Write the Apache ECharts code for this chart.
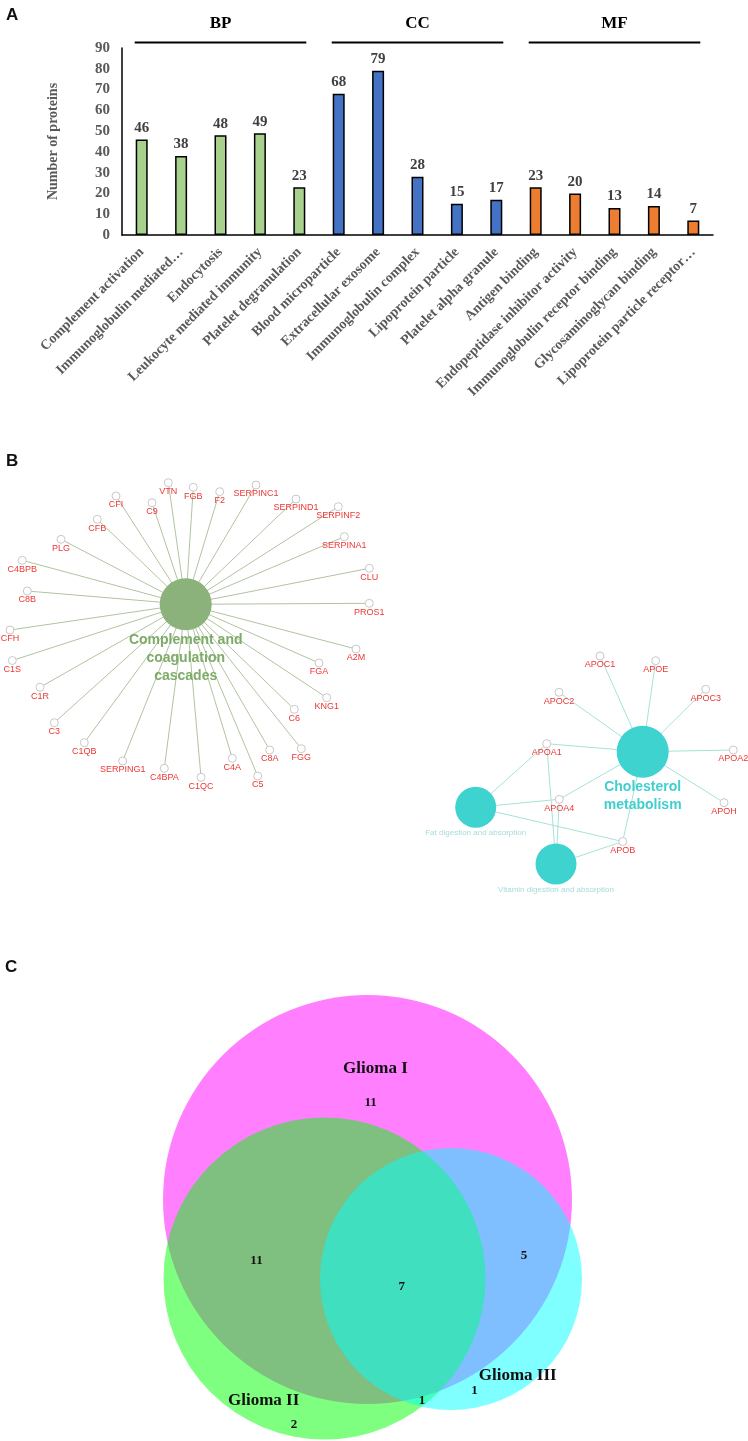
<!DOCTYPE html>
<html>
<head>
<meta charset="utf-8">
<script src="https://cdn.jsdelivr.net/npm/echarts@6/dist/echarts.min.js"></script>
<style>
  html, body { margin: 0; padding: 0; background: #fff; }
  #chart { width: 748px; height: 1441px; }
</style>
</head>
<body>
<div id="chart"></div>
<script>
  // ---- panel A : GO enrichment ----
  const goTerms = [
    'Complement activation', 'Immunoglobulin mediated…', 'Endocytosis',
    'Leukocyte mediated immunity', 'Platelet degranulation',
    'Blood microparticle', 'Extracellular exosome', 'Immunoglobulin complex',
    'Lipoprotein particle', 'Platelet alpha granule',
    'Antigen binding', 'Endopeptidase inhibitor activity',
    'Immunoglobulin receptor binding', 'Glycosaminoglycan binding',
    'Lipoprotein particle receptor…'
  ]
  const goCounts = [46, 38, 48, 49, 23, 68, 79, 28, 15, 17, 23, 20, 13, 14, 7]
  const goGroups = ['BP', 'CC', 'MF']
  const goGroupOf = [0, 0, 0, 0, 0, 1, 1, 1, 1, 1, 2, 2, 2, 2, 2]
  const countAxis = { min: 0, max: 90, step: 10 }

  // ---- panel B : KEGG network (positions in the layout's own units) ----
  const complementHub = 'Complement and\ncoagulation\ncascades'
  const complementHubXY = [185.7, 604.3]
  const complementGenes = [
    'VTN', 'FGB', 'F2', 'SERPINC1', 'SERPIND1', 'SERPINF2', 'SERPINA1', 'CLU',
    'PROS1', 'A2M', 'FGA', 'KNG1', 'C6', 'FGG', 'C8A', 'C5', 'C4A', 'C1QC',
    'C4BPA', 'SERPING1', 'C1QB', 'C3', 'C1R', 'C1S', 'CFH', 'C8B', 'C4BPB',
    'PLG', 'CFB', 'CFI', 'C9'
  ]
  const complementGeneXY = [
    [168.3, 482.7], [193.3, 487.3], [219.7, 491.7], [256, 485], [296, 499],
    [338.3, 506.7], [344.3, 536.7], [369.3, 568.3], [369.3, 603.3], [356, 649],
    [319, 663], [326.7, 697.7], [294.3, 709.3], [301.3, 748.7], [269.7, 750],
    [257.7, 776], [232.3, 758.3], [201, 777.3], [164.3, 768.3], [122.7, 761],
    [84.3, 742.7], [54.3, 722.7], [40, 687.3], [12.3, 660.5], [10, 630],
    [27.3, 591], [22.3, 560.3], [61, 539.3], [97.3, 519.3], [116, 496],
    [152, 502.7]
  ]

  const lipidHubs = ['Cholesterol\nmetabolism', 'Fat digestion and absorption', 'Vitamin digestion and absorption']
  const lipidHubXY = [[642.7, 751.7], [475.7, 807.3], [556, 864]]
  const lipidGenes = ['APOC1', 'APOE', 'APOC2', 'APOC3', 'APOA1', 'APOA2', 'APOA4', 'APOH', 'APOB']
  const lipidGeneXY = [
    [600, 656], [655.7, 660.7], [559, 692.3], [705.7, 689.3], [546.7, 743.7],
    [733.3, 750], [559.3, 799.3], [724, 802.7], [622.7, 841.5]
  ]
  const lipidHubGenes = [
    ['APOC1', 'APOE', 'APOC2', 'APOC3', 'APOA1', 'APOA2', 'APOA4', 'APOH', 'APOB'],
    ['APOA1', 'APOA4', 'APOB'],
    ['APOA1', 'APOA4', 'APOB']
  ]

  // ---- panel C : Venn ----
  const vennSets = ['Glioma I', 'Glioma II', 'Glioma III']
  const vennCircles = [[367.5, 1199.5, 204.5], [324.5, 1278.5, 161], [451, 1279, 131]]
  const vennNameXY = [[375.4, 1068.8], [263.7, 1400.9], [517.7, 1375.7]]
  // I only, II only, III only, I&II, I&III, II&III, all three
  const vennCounts = [11, 2, 1, 11, 5, 1, 7]
  const vennCountXY = [
    [370.6, 1103], [293.9, 1425], [474.6, 1390.8], [256.5, 1260.6],
    [524, 1256], [421.9, 1400.9], [401.7, 1286.5]
  ]

  const serif = 'Liberation Serif'
  const sans = 'Liberation Sans'
  const groupColors = ['#a9d18e', '#4472c4', '#ed7d31']
  const vennFills = ['rgba(255,0,255,0.5)', 'rgba(0,255,0,0.5)', 'rgba(0,255,255,0.5)']

  const chart = echarts.init(document.getElementById('chart'))

  // bracket over each GO group: [first index, last index]
  const brackets = goGroups.map((g, gi) => {
    let idx = goGroupOf.map((v, i) => v === gi ? i : -1).filter(i => i >= 0)
    return [idx[0], idx[idx.length - 1], gi]
  })

  const leafStyle = {
    symbolSize: 8,
    itemStyle: { color: '#fff', borderColor: '#c8c8c8', borderWidth: 1 },
    label: { show: true, position: 'bottom', distance: 0, color: '#ee3636', fontSize: 9, fontFamily: sans }
  }

  let complementNodes = [{
    name: complementHub,
    value: complementHubXY,
    symbolSize: 52,
    itemStyle: { color: '#8cb27c' },
    label: { show: true, position: 'bottom', distance: 1, color: '#7dab68', fontSize: 14, fontWeight: 'bold', lineHeight: 18, fontFamily: sans }
  }]
  complementGenes.forEach((g, i) => {
    complementNodes.push(Object.assign({ name: g, value: complementGeneXY[i] }, leafStyle))
  })
  const complementLinks = complementGenes.map(g => ({ source: complementHub, target: g }))

  let lipidNodes = []
  lipidHubs.forEach((h, i) => {
    let big = i === 0
    lipidNodes.push({
      name: h,
      value: lipidHubXY[i],
      symbolSize: big ? 52 : 41,
      itemStyle: { color: '#3ed3cf' },
      label: big
        ? { show: true, position: 'bottom', distance: 0, color: '#3fcfcf', fontSize: 14, fontWeight: 'bold', lineHeight: 18, fontFamily: sans }
        : { show: true, position: 'bottom', distance: 1, color: '#a5dcd8', fontSize: 8, fontFamily: sans }
    })
  })
  lipidGenes.forEach((g, i) => {
    lipidNodes.push(Object.assign({ name: g, value: lipidGeneXY[i] }, leafStyle))
  })
  let lipidLinks = []
  lipidHubGenes.forEach((list, i) => {
    list.forEach(g => lipidLinks.push({ source: lipidHubs[i], target: g }))
  })

  chart.setOption({
    animation: false,
    textStyle: { fontFamily: sans },
    title: [
      { text: 'A', left: 1, top: 2, textStyle: { fontSize: 17, fontWeight: 'bold', color: '#111', fontFamily: sans } },
      { text: 'B', left: 1, top: 448, textStyle: { fontSize: 17, fontWeight: 'bold', color: '#111', fontFamily: sans } },
      { text: 'C', left: 0, top: 954, textStyle: { fontSize: 17, fontWeight: 'bold', color: '#111', fontFamily: sans } }
    ],
    grid: [
      { left: 122, top: 48, width: 591, height: 187 },
      { left: 0, top: 0, width: 748, height: 1441 }
    ],
    xAxis: [
      {
        gridIndex: 0,
        type: 'category',
        data: goTerms,
        axisTick: { show: false },
        axisLine: { lineStyle: { color: '#000', width: 1.5 } },
        axisLabel: {
          interval: 0, rotate: 45, margin: 15,
          fontFamily: serif, fontWeight: 'bold', fontSize: 14, color: '#595959'
        }
      },
      { gridIndex: 1, type: 'value', min: 0, max: 748, show: false }
    ],
    yAxis: [
      {
        gridIndex: 0,
        type: 'value',
        min: countAxis.min, max: countAxis.max, interval: countAxis.step,
        name: 'Number of proteins',
        nameLocation: 'middle',
        nameGap: 62,
        nameTextStyle: { fontFamily: serif, fontWeight: 'bold', fontSize: 14, color: '#595959' },
        axisLine: { show: true, lineStyle: { color: '#000', width: 1.5 } },
        axisTick: { show: false },
        splitLine: { show: false },
        axisLabel: { margin: 12, fontFamily: serif, fontWeight: 'bold', fontSize: 15, color: '#595959' }
      },
      { gridIndex: 1, type: 'value', min: 0, max: 1441, inverse: true, show: false }
    ],
    series: [
      {
        type: 'bar',
        xAxisIndex: 0, yAxisIndex: 0,
        barWidth: 12,
        data: goCounts.map((v, i) => ({ value: v, itemStyle: { color: groupColors[goGroupOf[i]] } })),
        itemStyle: { borderColor: '#000', borderWidth: 1.5 },
        label: { show: true, position: 'top', distance: 4, fontFamily: serif, fontWeight: 'bold', fontSize: 15, color: '#404040' }
      },
      {
        // BP / CC / MF brackets
        type: 'custom',
        xAxisIndex: 0, yAxisIndex: 0,
        data: brackets,
        renderItem: function (params, api) {
          let a = api.coord([api.value(0), 92.7])
          let b = api.coord([api.value(1), 92.7])
          let t = api.coord([api.value(0), 101.6])
          return {
            type: 'group',
            children: [
              { type: 'line', shape: { x1: a[0] - 7, y1: a[1], x2: b[0] + 7, y2: b[1] }, style: { stroke: '#000', lineWidth: 2 } },
              { type: 'text', style: { text: goGroups[params.dataIndex], x: (a[0] + b[0]) / 2, y: t[1], align: 'center', verticalAlign: 'middle', font: 'bold 17px "Liberation Serif"', fill: '#000' } }
            ]
          }
        }
      },
      {
        type: 'graph',
        coordinateSystem: 'cartesian2d',
        xAxisIndex: 1, yAxisIndex: 1,
        layout: 'none',
        data: complementNodes,
        links: complementLinks,
        lineStyle: { color: '#b0c4a0', width: 1, opacity: 1, curveness: 0 },
        z: 3
      },
      {
        type: 'graph',
        coordinateSystem: 'cartesian2d',
        xAxisIndex: 1, yAxisIndex: 1,
        layout: 'none',
        data: lipidNodes,
        links: lipidLinks,
        lineStyle: { color: '#a6e2d8', width: 1, opacity: 1, curveness: 0 },
        z: 3
      },
      {
        // Venn circles
        type: 'custom',
        xAxisIndex: 1, yAxisIndex: 1,
        data: vennCircles,
        renderItem: function (params, api) {
          let c = api.coord([api.value(0), api.value(1)])
          let s = api.size([api.value(2), api.value(2)])
          return { type: 'circle', shape: { cx: c[0], cy: c[1], r: s[0] }, style: { fill: vennFills[params.dataIndex] } }
        }
      },
      {
        // Venn set names
        type: 'custom',
        xAxisIndex: 1, yAxisIndex: 1,
        data: vennNameXY,
        z: 4,
        renderItem: function (params, api) {
          let p = api.coord([api.value(0), api.value(1)])
          return { type: 'text', style: { text: vennSets[params.dataIndex], x: p[0], y: p[1], align: 'center', verticalAlign: 'middle', font: 'bold 17px "Liberation Serif"', fill: '#111' } }
        }
      },
      {
        // Venn counts
        type: 'custom',
        xAxisIndex: 1, yAxisIndex: 1,
        data: vennCountXY,
        z: 4,
        renderItem: function (params, api) {
          let p = api.coord([api.value(0), api.value(1)])
          return { type: 'text', style: { text: String(vennCounts[params.dataIndex]), x: p[0], y: p[1], align: 'center', verticalAlign: 'middle', font: 'bold 13px "Liberation Serif"', fill: '#111' } }
        }
      }
    ]
  })
</script>
</body>
</html>
